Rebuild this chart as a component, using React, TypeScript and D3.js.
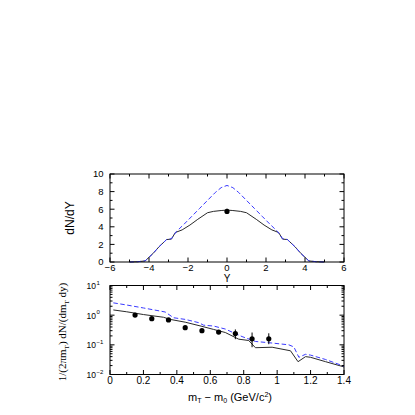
import React from 'react';
import * as d3 from 'd3';

// ---- Top panel: dN/dY vs Y ----
const rapidityBlack = [-5.0, -4.6, -4.2, -3.8, -3.5, -3.1, -2.85, -2.65, -2.3, -1.9, -1.5, -1.0, -0.7, -0.3, 0, 0.3, 0.7, 1.0, 1.5, 1.9, 2.3, 2.65, 2.85, 3.1, 3.5, 3.8, 4.2, 4.6, 5.0];
const dndyBlack = [0, 0.03, 0.12, 0.95, 1.7, 2.55, 2.6, 3.35, 3.65, 4.2, 4.85, 5.6, 5.75, 5.85, 5.9, 5.85, 5.75, 5.6, 4.85, 4.2, 3.65, 3.35, 2.6, 2.55, 1.7, 0.95, 0.12, 0.03, 0];
const rapidityBlue = [-5.0, -4.6, -4.2, -3.8, -3.5, -3.1, -2.85, -2.6, -2.2, -1.8, -1.4, -1.0, -0.6, -0.3, 0, 0.3, 0.6, 1.0, 1.4, 1.8, 2.2, 2.6, 2.85, 3.1, 3.5, 3.8, 4.2, 4.6, 5.0];
const dndyBlue = [0, 0.03, 0.12, 0.95, 1.7, 2.55, 2.65, 3.45, 4.3, 5.2, 6.1, 7.0, 7.9, 8.45, 8.7, 8.45, 7.9, 7.0, 6.1, 5.2, 4.3, 3.45, 2.65, 2.55, 1.7, 0.95, 0.12, 0.03, 0];
const dndyDataY = [0];
const dndyDataV = [5.75];
const dndyDataErr = [0.3];
const topXTicks = [-6, -4, -2, 0, 2, 4, 6];
const topXMinor = [-5, -3, -1, 1, 3, 5];
const topYTicks = [0, 2, 4, 6, 8, 10];
const topYMinor = [1, 3, 5, 7, 9];

// ---- Bottom panel: spectra vs mT - m0 ----
const mtBlack = [0.02, 0.1, 0.2, 0.32, 0.36, 0.45, 0.55, 0.62, 0.69, 0.77, 0.83, 0.87, 0.97, 1.08, 1.125, 1.17, 1.2, 1.29, 1.4];
const specBlack = [1.5, 1.3, 1.05, 0.85, 0.72, 0.58, 0.42, 0.33, 0.26, 0.155, 0.14, 0.08, 0.083, 0.063, 0.027, 0.04, 0.038, 0.027, 0.018];
const mtBlue = [0.02, 0.1, 0.2, 0.33, 0.38, 0.45, 0.53, 0.56, 0.62, 0.69, 0.79, 0.87, 0.97, 1.07, 1.1, 1.13, 1.17, 1.2, 1.29, 1.4];
const specBlue = [2.6, 2.2, 1.75, 1.28, 0.82, 0.72, 0.56, 0.46, 0.43, 0.34, 0.19, 0.13, 0.115, 0.1, 0.085, 0.038, 0.048, 0.045, 0.032, 0.019];
const mtData = [0.15, 0.25, 0.35, 0.45, 0.55, 0.65, 0.75, 0.85, 0.95];
const specData = [1.01, 0.76, 0.69, 0.38, 0.3, 0.27, 0.24, 0.16, 0.16];
const specErrLo = [0.93, 0.7, 0.64, 0.35, 0.27, 0.245, 0.155, 0.083, 0.105];
const specErrHi = [1.09, 0.82, 0.74, 0.41, 0.33, 0.295, 0.33, 0.26, 0.245];
const botXTicks = [0, 0.2, 0.4, 0.6, 0.8, 1.0, 1.2, 1.4];
const botXMinor = [0.1, 0.3, 0.5, 0.7, 0.9, 1.1, 1.3];
const botYExp = [-2, -1, 0, 1];

const SANS = '"Liberation Sans", Arial, Helvetica, sans-serif';
const SERIF = '"Liberation Serif", "Times New Roman", serif';
const BLACK_LINE = '#2a2a2a';
const BLUE_LINE = '#3a3aff';

export default function App() {
  const L = 110, R = 344;
  const tT = 174, tB = 262;
  const bT = 285.5, bB = 374.5;

  const xTop = d3.scaleLinear().domain([-6, 6]).range([L, R]);
  const yTop = d3.scaleLinear().domain([0, 10]).range([tB, tT]);
  const xBot = d3.scaleLinear().domain([0, 1.4]).range([L, R]);
  const yBot = d3.scaleLog().domain([0.01, 10]).range([bB, bT]);

  const lineTop = (xs: number[], vs: number[]) =>
    d3.line<number>().x((_, i) => xTop(xs[i])).y((v) => yTop(v))(vs) || '';
  const lineBot = (xs: number[], vs: number[]) =>
    d3.line<number>().x((_, i) => xBot(xs[i])).y((v) => yBot(v))(vs) || '';

  const major = 4.5, minor = 2.5;

  const logMinor: number[] = [];
  for (let e = -2; e < 1; e++) for (let k = 2; k <= 9; k++) logMinor.push(k * Math.pow(10, e));

  const fmtBot = (v: number) => (Math.abs(v - Math.round(v)) < 1e-9 ? String(Math.round(v)) : v.toFixed(1));
  const fmtTop = (v: number) => (v < 0 ? '\u2212' + Math.abs(v) : String(v));

  return (
    <svg width={415} height={415} style={{ position: 'absolute', left: 0, top: 0, background: '#fff' }}>
      {/* ===== TOP PANEL ===== */}
      <g>
        <path d={lineTop(rapidityBlack, dndyBlack)} fill="none" stroke={BLACK_LINE} strokeWidth={1} />
        <path d={lineTop(rapidityBlue, dndyBlue)} fill="none" stroke={BLUE_LINE} strokeWidth={1} strokeDasharray="4.5,2.5" />
        {dndyDataY.map((y, i) => (
          <g key={i}>
            <line x1={xTop(y)} x2={xTop(y)} y1={yTop(dndyDataV[i] - dndyDataErr[i])} y2={yTop(dndyDataV[i] + dndyDataErr[i])} stroke="#000" strokeWidth={1} />
            <circle cx={xTop(y)} cy={yTop(dndyDataV[i])} r={2.6} fill="#000" />
          </g>
        ))}
        <rect x={L} y={tT} width={R - L} height={tB - tT} fill="none" stroke="#000" strokeWidth={1} />
        {topXTicks.map((t) => (
          <g key={'tx' + t}>
            <line x1={xTop(t)} x2={xTop(t)} y1={tB} y2={tB - major} stroke="#000" />
            <line x1={xTop(t)} x2={xTop(t)} y1={tT} y2={tT + major} stroke="#000" />
            <text x={xTop(t)} y={270.5} fontSize={9.5} fontFamily={SANS} textAnchor="middle">{fmtTop(t)}</text>
          </g>
        ))}
        {topXMinor.map((t) => (
          <g key={'txm' + t}>
            <line x1={xTop(t)} x2={xTop(t)} y1={tB} y2={tB - minor} stroke="#000" />
            <line x1={xTop(t)} x2={xTop(t)} y1={tT} y2={tT + minor} stroke="#000" />
          </g>
        ))}
        {topYTicks.map((t) => (
          <g key={'ty' + t}>
            <line x1={L} x2={L + major} y1={yTop(t)} y2={yTop(t)} stroke="#000" />
            <line x1={R} x2={R - major} y1={yTop(t)} y2={yTop(t)} stroke="#000" />
            <text x={103.5} y={yTop(t) + 3.3} fontSize={9.5} fontFamily={SANS} textAnchor="end">{t}</text>
          </g>
        ))}
        {topYMinor.map((t) => (
          <g key={'tym' + t}>
            <line x1={L} x2={L + minor} y1={yTop(t)} y2={yTop(t)} stroke="#000" />
            <line x1={R} x2={R - minor} y1={yTop(t)} y2={yTop(t)} stroke="#000" />
          </g>
        ))}
        <text x={227} y={282} fontSize={10} fontFamily={SANS} textAnchor="middle">Y</text>
        <text transform="translate(74,218) rotate(-90)" fontSize={12} fontFamily={SANS} textAnchor="middle">dN/dY</text>
      </g>

      {/* ===== BOTTOM PANEL ===== */}
      <g>
        <path d={lineBot(mtBlack, specBlack)} fill="none" stroke={BLACK_LINE} strokeWidth={1} />
        <path d={lineBot(mtBlue, specBlue)} fill="none" stroke={BLUE_LINE} strokeWidth={1} strokeDasharray="4.5,2.5" />
        {mtData.map((m, i) => (
          <g key={'d' + i}>
            <line x1={xBot(m)} x2={xBot(m)} y1={yBot(specErrLo[i])} y2={yBot(specErrHi[i])} stroke="#000" strokeWidth={1} />
            <circle cx={xBot(m)} cy={yBot(specData[i])} r={2.6} fill="#000" />
          </g>
        ))}
        <rect x={L} y={bT} width={R - L} height={bB - bT} fill="none" stroke="#000" strokeWidth={1} />
        {botXTicks.map((t) => (
          <g key={'bx' + t}>
            <line x1={xBot(t)} x2={xBot(t)} y1={bB} y2={bB - major} stroke="#000" />
            <line x1={xBot(t)} x2={xBot(t)} y1={bT} y2={bT + major} stroke="#000" />
            <text x={xBot(t)} y={384} fontSize={10} fontFamily={SANS} textAnchor="middle">{fmtBot(t)}</text>
          </g>
        ))}
        {botXMinor.map((t) => (
          <g key={'bxm' + t}>
            <line x1={xBot(t)} x2={xBot(t)} y1={bB} y2={bB - minor} stroke="#000" />
            <line x1={xBot(t)} x2={xBot(t)} y1={bT} y2={bT + minor} stroke="#000" />
          </g>
        ))}
        {botYExp.map((e) => (
          <g key={'by' + e}>
            <line x1={L} x2={L + major} y1={yBot(Math.pow(10, e))} y2={yBot(Math.pow(10, e))} stroke="#000" />
            <line x1={R} x2={R - major} y1={yBot(Math.pow(10, e))} y2={yBot(Math.pow(10, e))} stroke="#000" />
            <text x={96} y={yBot(Math.pow(10, e)) + 3.5} fontSize={8.5} fontFamily={SANS} textAnchor="end">10</text>
            <text x={96.5} y={yBot(Math.pow(10, e)) - 1} fontSize={6} fontFamily={SANS} textAnchor="start">{e < 0 ? '\u2212' + Math.abs(e) : String(e)}</text>
          </g>
        ))}
        {logMinor.map((v, i) => (
          <g key={'bym' + i}>
            <line x1={L} x2={L + minor} y1={yBot(v)} y2={yBot(v)} stroke="#000" />
            <line x1={R} x2={R - minor} y1={yBot(v)} y2={yBot(v)} stroke="#000" />
          </g>
        ))}
        <text x={230} y={400.5} fontSize={11} fontFamily={SANS} textAnchor="middle">
          <tspan>m</tspan>
          <tspan fontSize={7} dy={2.5}>T</tspan>
          <tspan dy={-2.5}>{' \u2212 m'}</tspan>
          <tspan fontSize={7} dy={2.5}>0</tspan>
          <tspan dy={-2.5}>{'  (GeV/c'}</tspan>
          <tspan fontSize={7} dy={-4}>2</tspan>
          <tspan dy={4}>)</tspan>
        </text>
        <text transform="translate(66,332) rotate(-90)" fontSize={11} fontFamily={SERIF} textAnchor="middle">
          <tspan>1/(2πm</tspan>
          <tspan fontSize={7} dy={2.5}>T</tspan>
          <tspan dy={-2.5}>) dN/(dm</tspan>
          <tspan fontSize={7} dy={2.5}>T</tspan>
          <tspan dy={-2.5}> dy)</tspan>
        </text>
      </g>
    </svg>
  );
}
